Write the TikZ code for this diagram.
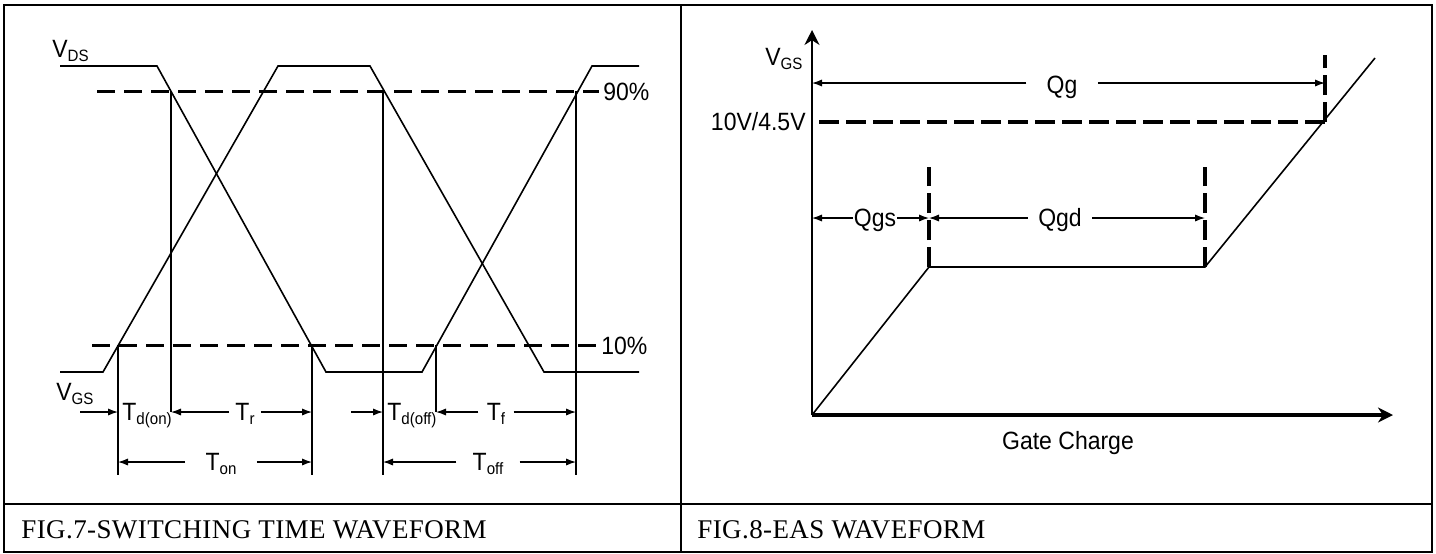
\documentclass[tikz,border=0pt]{standalone}
\usepackage{fontspec}
\setmainfont{Liberation Serif}
\setsansfont{Liberation Sans}
\newfontfamily\labelfont[FakeStretch=0.92]{Liberation Sans}
\newfontfamily\capfont[LetterSpace=1.5]{Liberation Serif}
\newcommand{\lo}[1]{\raisebox{-2pt}{\fontsize{8.2}{9}\selectfont #1}}
\usepackage{tikz}
\usetikzlibrary{arrows.meta,positioning,calc}
\tikzset{
  frameline/.style={line width=1pt, draw=black},
  waveline/.style={line width=0.8pt, draw=black},
  markline/.style={line width=1.2pt, draw=black},
  levelline/.style={line width=1.5pt, draw=black, dash pattern=on 9pt off 4.5pt},
  chargeline/.style={line width=1.8pt, draw=black, dash pattern=on 10pt off 3.5pt},
  dimarrow/.style={-{Latex[length=5pt,width=3.6pt]}, line width=0.6pt, draw=black},
  axisarrow/.style={-{Stealth[length=7.5pt,width=7.5pt]}, line width=0.9pt, draw=black},
  lbl/.style={font=\labelfont\fontsize{12.5}{14}\selectfont, inner sep=0pt},
  caption/.style={font=\capfont\fontsize{13.5}{15}\selectfont, anchor=base west, inner sep=0pt}
}

\begin{document}
\begin{tikzpicture}[x=0.5pt,y=-0.5pt]
        \useasboundingbox (0,0) rectangle (1436,553);
        \draw[frameline] (4,5) rectangle (1432,552);
        \draw[frameline] (681,5) -- (681,552);
        \draw[frameline] (4,504) -- (1432,504);
        \node[caption] (cap7) at (21,538) {FIG.7-SWITCHING TIME WAVEFORM};
        \node[caption] (cap8) at (697,538) {FIG.8-EAS WAVEFORM};

        \draw[waveline] (60,66) -- (157,66) -- (326,372) -- (422,372) -- (592,66) -- (639,66);
        \draw[waveline] (60,372) -- (103,372) -- (278,66) -- (370,66) -- (544,372) -- (639,372);
        \draw[levelline] (97,91) -- (599,91);
        \draw[levelline] (92,345) -- (597,345);
        \foreach \n/\x/\ya/\yb in {1/118/345/475, 2/171/91/412, 3/312/345/475,
                                   4/383/91/475, 5/436/345/412, 6/576/91/475} {
          \coordinate (m\n) at (\x,\yb);
          \draw[markline] (\x,\ya) -- (m\n);
        }
        \coordinate (r1) at (0,412);
        \coordinate (r2) at (0,462);
        \coordinate (s1) at (80,412);
        \coordinate (s2) at (351,412);

        \node[lbl, anchor=base west] (vds) at (52,57) {V\lo{DS}};
        \node[lbl, anchor=base west] (vgs) at (56,400) {V\lo{GS}};
        \node[lbl, anchor=west] (p90) at (603,92) {90\%};
        \node[lbl, anchor=west] (p10) at (601,346) {10\%};
        \node[lbl, anchor=base west] (tdon) at (122,420) {T\lo{d(on)}};
        \node[lbl, anchor=base, inner xsep=3pt] (tr) at (245,420) {T\lo{r}};
        \node[lbl, anchor=base west] (tdoff) at (387,420) {T\lo{d(off)}};
        \node[lbl, anchor=base, inner xsep=4pt] (tf) at (496,420) {T\lo{f}};
        \node[lbl, anchor=base, inner xsep=10pt] (ton) at (221,470) {T\lo{on}};
        \node[lbl, anchor=base, inner xsep=8pt] (toff) at (488,470) {T\lo{off}};

        \draw[dimarrow] (s1) -- (m1 |- r1);
        \draw[dimarrow] (tr.west |- r1) -- (m2 |- r1);
        \draw[dimarrow] (tr.east |- r1) -- (m3 |- r1);
        \draw[dimarrow] (s2) -- (m4 |- r1);
        \draw[dimarrow] (tf.west |- r1) -- (m5 |- r1);
        \draw[dimarrow] (tf.east |- r1) -- (m6 |- r1);
        \draw[dimarrow] (ton.west |- r2) -- (m1 |- r2);
        \draw[dimarrow] (ton.east |- r2) -- (m3 |- r2);
        \draw[dimarrow] (toff.west |- r2) -- (m4 |- r2);
        \draw[dimarrow] (toff.east |- r2) -- (m6 |- r2);

        \coordinate (o) at (812,415);
        \coordinate (ytip) at (812,30);
        \coordinate (xtip) at (1393,415);
        \coordinate (k1) at (929,267);
        \coordinate (k2) at (1205,267);
        \coordinate (k3) at (1375,58);
        \coordinate (c3) at (1325,122);
        \coordinate (rq) at (0,83);
        \coordinate (rs) at (0,218);

        \draw[axisarrow] (o) -- (ytip);
        \draw[axisarrow, line width=1.8pt] (o) -- (xtip);
        \draw[waveline] (o) -- (k1) -- (k2) -- (k3);
        \draw[chargeline] (819,122) -- (c3);
        \draw[chargeline] (c3) -- (1325,55);
        \draw[chargeline] (k1) -- (929,167);
        \draw[chargeline] (k2) -- (1205,167);

        \node[lbl, anchor=base west] (vgs2) at (765,65) {V\lo{GS}};
        \node[lbl, anchor=east] (volt) at (806,122) {10V/4.5V};
        \node[lbl, anchor=base, inner xsep=10pt] (qg) at (1062,93) {Qg};
        \node[lbl, anchor=base, inner xsep=0.5pt] (qgs) at (875,226) {Qgs};
        \node[lbl, anchor=base, inner xsep=5pt] (qgd) at (1060,226) {Qgd};
        \node[lbl, anchor=base] (gate) at (1068,449) {Gate Charge};

        \draw[dimarrow] (qg.west |- rq) -- (o |- rq);
        \draw[dimarrow] (qg.east |- rq) -- (c3 |- rq);
        \draw[dimarrow] (qgs.west |- rs) -- (o |- rs);
        \draw[dimarrow] (qgs.east |- rs) -- (k1 |- rs);
        \draw[dimarrow] (qgd.west |- rs) -- (k1 |- rs);
        \draw[dimarrow] (qgd.east |- rs) -- (k2 |- rs);
    \end{tikzpicture}
\end{document}
